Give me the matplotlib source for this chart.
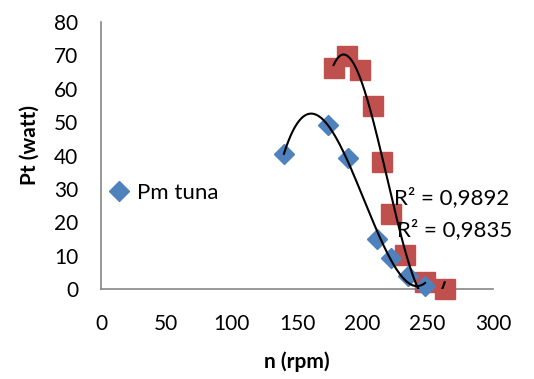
import numpy as np
import matplotlib
matplotlib.use("Agg")
import matplotlib.pyplot as plt
from matplotlib.lines import Line2D

# Data
n_tuna = [140, 174, 189, 211, 222, 235, 248]
pm_tuna = [40.4, 49.0, 39.2, 14.9, 9.2, 4.0, 0.8]
n_red = [178, 188, 198, 208, 215, 222, 233, 248, 263]
pt_red = [66.2, 69.8, 65.6, 54.9, 38.1, 22.5, 10.2, 2.2, 0.0]
r2_labels = ["R² = 0,9892", "R² = 0,9835"]
legend_label = "Pm tuna"
x_ticks = [0, 50, 100, 150, 200, 250, 300]
y_ticks = [0, 10, 20, 30, 40, 50, 60, 70, 80]

BLUE = "#4F81BD"
RED = "#C0504D"
GRAY = "#868686"
FONT = "Lato"
FS = 15

fig = plt.figure(figsize=(5.34, 3.79), dpi=100)
ax = fig.add_axes([101/534, 1-289/379, 392/534, 267/379])

ax.plot(n_red, pt_red, ls="none", marker="s", ms=14.4, color=RED, clip_on=False, zorder=3)
ax.plot(n_tuna, pm_tuna, ls="none", marker="D", ms=9.8, color=BLUE, clip_on=False, zorder=3)

# cubic polynomial trendlines (clipped to the plot area like Excel)
for xs, ys in [(n_tuna, pm_tuna), (n_red, pt_red)]:
    c = np.polyfit(xs, ys, 3)
    xx = np.linspace(min(xs), max(xs), 300)
    ax.plot(xx, np.polyval(c, xx), color="black", lw=1.5, clip_on=True, zorder=4)

ax.set_xlim(0, 300)
ax.set_ylim(0, 80)
ax.set_xticks(x_ticks)
ax.set_yticks(y_ticks)
ax.tick_params(length=0, labelsize=FS, colors="black")
ax.tick_params(axis="x", pad=18)
ax.tick_params(axis="y", pad=16.5)
for lab in ax.get_xticklabels() + ax.get_yticklabels():
    lab.set_fontfamily(FONT)
for s in ["top", "right"]:
    ax.spines[s].set_visible(False)
for s in ["left", "bottom"]:
    ax.spines[s].set_color(GRAY)
    ax.spines[s].set_linewidth(1.2)

ax.set_xlabel("n (rpm)", fontsize=FS, fontweight="bold", family=FONT)
ax.set_ylabel("Pt (watt)", fontsize=FS, fontweight="bold", family=FONT)
ax.xaxis.set_label_coords(297/534, 1-362/379, transform=fig.transFigure)
ax.xaxis.label.set_va("center")
ax.yaxis.set_label_coords(30/534, 1-145/379, transform=fig.transFigure)
ax.yaxis.label.set_va("center")

ax.text(394/534, 1-198/379, r2_labels[0], transform=fig.transFigure, fontsize=16,
        family=FONT, va="center", ha="left")
ax.text(397/534, 1-230/379, r2_labels[1], transform=fig.transFigure, fontsize=16,
        family=FONT, va="center", ha="left")

h = Line2D([], [], ls="none", marker="D", ms=9.8, color=BLUE)
ax.legend(handles=[h], labels=[legend_label], loc="center left",
          bbox_to_anchor=(108/534, 1-193/379), bbox_transform=fig.transFigure,
          frameon=False, borderpad=0, borderaxespad=0, handlelength=1.0,
          handletextpad=0.3, prop={"family": FONT, "size": 16})

fig.savefig("out.png", dpi=100)
